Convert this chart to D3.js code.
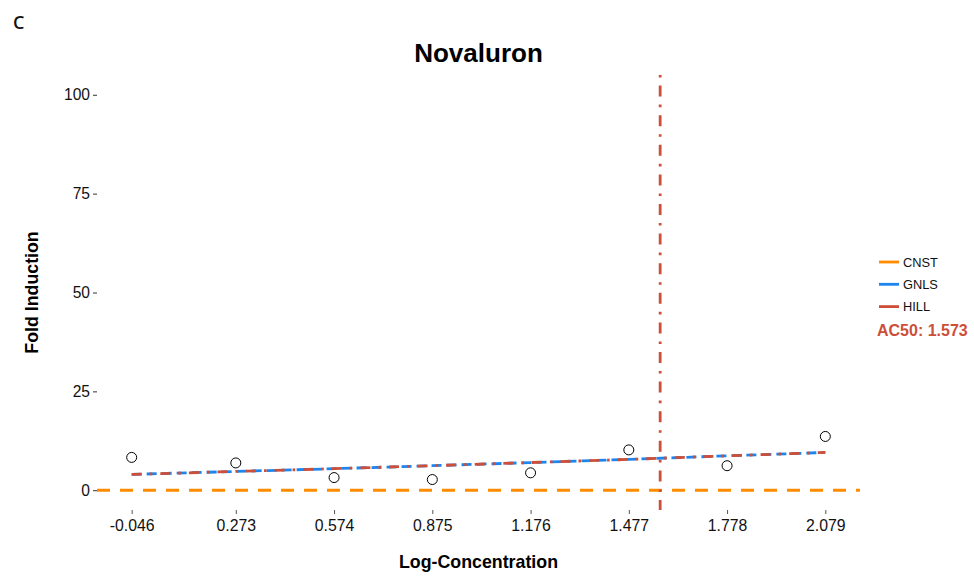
<!DOCTYPE html>
<html>
<head>
<meta charset="utf-8">
<script src="https://cdn.jsdelivr.net/npm/d3@7"></script>
<style>
  html, body { margin: 0; padding: 0; background: #fff; }
  svg { display: block; }
</style>
</head>
<body>
<svg id="chart" width="974" height="576"></svg>
<script>
// Concentration series (log scale) and measured fold induction
const logConc = [-0.046, 0.273, 0.574, 0.875, 1.176, 1.477, 1.778, 2.079];
const foldInduction = [8.3, 6.9, 3.2, 2.7, 4.4, 10.2, 6.2, 13.6];

// Fitted model curves evaluated at each concentration
const gnlsFit = [4.0, 4.75, 5.45, 6.2, 7.0, 7.8, 8.7, 9.55];
const hillFit = [4.0, 4.75, 5.45, 6.2, 7.0, 7.8, 8.7, 9.55];
const cnstLevel = 0;
const ac50 = 1.573;

const yTicks = [0, 25, 50, 75, 100];
const xTickLabels = ["-0.046", "0.273", "0.574", "0.875", "1.176", "1.477", "1.778", "2.079"];

const legendNames = ["CNST", "GNLS", "HILL"];
const colors = { CNST: "#FF8C00", GNLS: "#1C86EE", HILL: "#CD4F39" };

const svg = d3.select("#chart");
const panel = { left: 97, right: 860, top: 75, bottom: 510 };

const span = d3.max(logConc) - d3.min(logConc);
const x = d3.scaleLinear()
  .domain([d3.min(logConc) - 0.05 * span, d3.max(logConc) + 0.05 * span])
  .range([panel.left, panel.right]);
const y = d3.scaleLinear()
  .domain([-5, 105])
  .range([panel.bottom, panel.top]);

const font = "'Liberation Sans', Arial, Helvetica, sans-serif";

// Panel label
svg.append("text")
  .attr("x", 13).attr("y", 29)
  .attr("font-family", "'Open Sans', 'DejaVu Sans', sans-serif")
  .attr("font-size", 18).attr("font-weight", 600)
  .attr("fill", "#111")
  .text("C");

// Title
svg.append("text")
  .attr("x", (panel.left + panel.right) / 2).attr("y", 62)
  .attr("text-anchor", "middle")
  .attr("font-family", font).attr("font-weight", "bold")
  .attr("font-size", 26).attr("fill", "#000")
  .text("Novaluron");

// Y axis (ticks and labels only)
const yAxis = d3.axisLeft(y).tickValues(yTicks).tickSize(4).tickPadding(3);
const gy = svg.append("g").attr("transform", `translate(${panel.left},0)`).call(yAxis);
gy.select(".domain").remove();
gy.selectAll(".tick line").attr("stroke", "#333").attr("stroke-width", 1);
gy.selectAll(".tick text").attr("font-family", font).attr("font-size", 15.6).attr("fill", "#111");

// X axis at the data concentrations
const xAxis = d3.axisBottom(x).tickValues(logConc)
  .tickFormat((d, i) => xTickLabels[i]).tickSize(4).tickPadding(6);
const gx = svg.append("g").attr("transform", `translate(0,${panel.bottom})`).call(xAxis);
gx.select(".domain").remove();
gx.selectAll(".tick line").attr("stroke", "#555").attr("stroke-width", 1);
gx.selectAll(".tick text").attr("font-family", font).attr("font-size", 15.8).attr("fill", "#111");

// Axis titles
svg.append("text")
  .attr("x", (panel.left + panel.right) / 2).attr("y", 568)
  .attr("text-anchor", "middle")
  .attr("font-family", font).attr("font-weight", "bold")
  .attr("font-size", 17.8).attr("fill", "#000")
  .text("Log-Concentration");
svg.append("text")
  .attr("transform", `translate(38,${(panel.top + panel.bottom) / 2}) rotate(-90)`)
  .attr("text-anchor", "middle")
  .attr("font-family", font).attr("font-weight", "bold")
  .attr("font-size", 17.8).attr("fill", "#000")
  .text("Fold Induction");

// Constant model
svg.append("line")
  .attr("x1", panel.left).attr("x2", panel.right)
  .attr("y1", y(cnstLevel)).attr("y2", y(cnstLevel))
  .attr("stroke", colors.CNST).attr("stroke-width", 2.8)
  .attr("stroke-dasharray", "13,10");

// Fitted curves
const curve = d3.line().x(d => x(d[0])).y(d => y(d[1]));
svg.append("path")
  .datum(logConc.map((c, i) => [c, gnlsFit[i]]))
  .attr("d", curve).attr("fill", "none")
  .attr("stroke", colors.GNLS).attr("stroke-width", 2.8)
  .attr("stroke-dasharray", "10,5");
svg.append("path")
  .datum(logConc.map((c, i) => [c, hillFit[i]]))
  .attr("d", curve).attr("fill", "none")
  .attr("stroke", colors.HILL).attr("stroke-width", 2.8)
  .attr("stroke-dasharray", "10,8,2.6,8");

// AC50 marker
svg.append("line")
  .attr("x1", x(ac50)).attr("x2", x(ac50))
  .attr("y1", panel.top).attr("y2", panel.bottom)
  .attr("stroke", colors.HILL).attr("stroke-width", 2.8)
  .attr("stroke-dasharray", "2.6,8,11,8");

// Observed points
svg.append("g").selectAll("circle")
  .data(logConc.map((c, i) => [c, foldInduction[i]]))
  .join("circle")
  .attr("cx", d => x(d[0])).attr("cy", d => y(d[1]))
  .attr("r", 5)
  .attr("fill", "#fff").attr("stroke", "#000").attr("stroke-width", 1);

// Legend
const legend = svg.append("g").attr("transform", "translate(879,262)");
legendNames.forEach((name, i) => {
  const row = legend.append("g").attr("transform", `translate(0,${i * 22.3})`);
  row.append("line").attr("x1", 0).attr("x2", 20).attr("y1", 0).attr("y2", 0)
    .attr("stroke", colors[name]).attr("stroke-width", 2.8);
  row.append("text").attr("x", 24).attr("y", 4.8)
    .attr("font-family", font).attr("font-size", 12.8).attr("fill", "#111")
    .text(name);
});
svg.append("text")
  .attr("x", 877).attr("y", 336)
  .attr("font-family", font).attr("font-weight", "bold")
  .attr("font-size", 16).attr("fill", colors.HILL)
  .text("AC50: " + ac50.toFixed(3));
</script>
</body>
</html>
